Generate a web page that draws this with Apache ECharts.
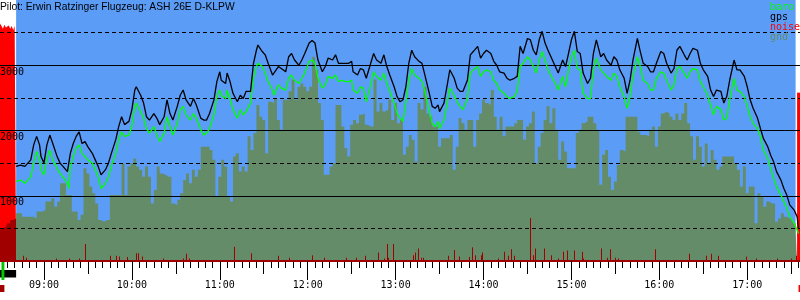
<!DOCTYPE html>
<html>
<head>
<meta charset="utf-8">
<title>Barogramm D-KLPW</title>
<script src="https://cdn.jsdelivr.net/npm/echarts@6/dist/echarts.min.js"></script>
<style>
  html, body { margin: 0; padding: 0; background: #fff; }
  #main { width: 800px; height: 300px; }
</style>
</head>
<body>
<div id="main"></div>
<script type="text/javascript">
    // Flug: Zeit, GPS-Hoehe und Baro-Hoehe (m)
    var trackTime = ['08:41','08:44','08:47','08:48','08:51','08:53','08:55','08:57','08:58','09:00',
        '09:02','09:04','09:06','09:09','09:11','09:13','09:16','09:17','09:18','09:20',
        '09:22','09:24','09:26','09:28','09:30','09:33','09:35','09:37','09:39','09:42',
        '09:44','09:46','09:49','09:51','09:53','09:55','09:58','10:00','10:02','10:03',
        '10:06','10:08','10:10','10:12','10:15','10:17','10:19','10:22','10:24','10:26',
        '10:28','10:31','10:33','10:35','10:37','10:40','10:42','10:44','10:47','10:49',
        '10:51','10:53','10:56','10:58','11:00','11:01','11:04','11:05','11:07','11:09',
        '11:12','11:14','11:16','11:18','11:21','11:23','11:25','11:26','11:29','11:31',
        '11:33','11:36','11:37','11:40','11:42','11:45','11:47','11:49','11:51','11:54',
        '11:56','11:58','12:01','12:03','12:05','12:07','12:10','12:12','12:14','12:17',
        '12:19','12:21','12:23','12:26','12:28','12:30','12:31','12:34','12:36','12:38',
        '12:40','12:43','12:45','12:47','12:50','12:52','12:54','12:56','12:59','13:01',
        '13:03','13:05','13:07','13:09','13:11','13:13','13:16','13:18','13:20','13:23',
        '13:25','13:27','13:29','13:30','13:33','13:35','13:37','13:40','13:42','13:44',
        '13:46','13:49','13:51','13:53','13:56','13:58','14:00','14:02','14:05','14:07',
        '14:09','14:11','14:14','14:16','14:18','14:21','14:23','14:25','14:27','14:30',
        '14:32','14:34','14:36','14:38','14:40','14:42','14:44','14:47','14:49','14:51',
        '14:54','14:56','14:58','15:00','15:02','15:04','15:06','15:08','15:11','15:13',
        '15:15','15:17','15:20','15:22','15:24','15:27','15:29','15:31','15:33','15:36',
        '15:38','15:40','15:42','15:45','15:47','15:49','15:52','15:54','15:56','15:58',
        '16:01','16:03','16:05','16:08','16:10','16:12','16:14','16:17','16:19','16:21',
        '16:23','16:26','16:28','16:30','16:33','16:35','16:37','16:39','16:42','16:44',
        '16:46','16:48','16:51','16:53','16:55','16:58','17:00','17:02','17:04','17:07',
        '17:09','17:11','17:14','17:16','17:18','17:20','17:23','17:25','17:27','17:29',
        '17:32','17:34','17:35'];
    var gpsAlt = [1450,1470,1450,1420,1550,1780,1910,1780,1600,1500,
        1780,1930,1800,1600,1500,1450,1370,1340,1650,1800,
        1910,1980,1800,1830,1750,1650,1550,1450,1320,1400,
        1500,1650,1860,2060,2210,2090,2140,2320,2620,2670,
        2540,2420,2210,2160,2260,2190,2090,2210,2470,2260,
        2160,2370,2540,2620,2470,2370,2490,2390,2190,2160,
        2160,2260,2470,2750,2900,2770,2720,2880,2750,2570,
        2440,2540,2490,2600,2600,3030,3230,3310,3210,3160,
        3030,2850,2830,2980,2950,2900,3130,3180,3080,3000,
        3080,3180,3340,3380,3340,3080,2900,2980,3110,3080,
        3160,3030,3030,3030,3030,3060,2900,2850,2950,2930,
        2800,3030,3180,3080,3030,3160,2980,2850,2670,2520,
        2440,2470,2670,3030,3230,3130,3060,3030,2850,2570,
        2370,2340,2390,2290,2420,2670,2930,2800,2650,2600,
        2600,2770,3160,3210,3290,3110,3180,3230,3180,3060,
        3000,2900,2880,2800,2770,2800,2830,3290,3180,3410,
        3390,3230,3160,3390,3520,3340,3230,3080,2980,2880,
        3080,2980,3180,3390,3520,3210,3180,2880,2720,2800,
        3180,3390,3130,3180,3080,3000,3130,3080,2930,2800,
        2570,2770,3080,3410,3210,3030,2980,2900,2900,3030,
        3210,3180,3030,2880,2950,3230,3290,3160,3080,3180,
        3260,3230,3030,2930,2830,2620,2520,2620,2600,2420,
        2520,2770,3080,2930,2930,2830,2670,2470,2340,2190,
        2030,1880,1750,1620,1520,1370,1240,1110,1010,860,
        780,680,500];
    var baroAlt = [1220,1240,1190,1170,1290,1500,1680,1550,1400,1320,
        1570,1700,1550,1420,1340,1290,1190,1110,1450,1600,
        1730,1780,1650,1600,1550,1500,1400,1290,1110,1190,
        1290,1450,1650,1860,1980,1910,1930,2060,2370,2420,
        2290,2190,2030,1960,2060,1930,1830,1960,2210,2060,
        1930,2110,2320,2370,2240,2160,2260,2190,2010,1930,
        1960,2030,2240,2520,2620,2540,2490,2620,2490,2320,
        2190,2320,2240,2290,2420,2800,2980,3030,2980,2880,
        2750,2620,2540,2700,2650,2620,2800,2850,2770,2720,
        2800,2880,3060,3080,3030,2800,2650,2700,2830,2800,
        2850,2750,2770,2750,2750,2770,2620,2570,2670,2650,
        2440,2700,2900,2830,2770,2880,2720,2600,2420,2260,
        2190,2140,2420,2770,2950,2850,2800,2750,2600,2290,
        2110,2060,2140,2030,2160,2390,2650,2540,2440,2370,
        2320,2490,2880,2930,2980,2830,2900,2930,2900,2770,
        2720,2620,2570,2520,2490,2520,2600,2980,3030,3130,
        3080,2980,2880,3080,3210,3080,2930,2800,2720,2620,
        2830,2670,2930,3130,3230,2950,2930,2570,2490,2490,
        2930,3110,2930,2880,2830,2770,2880,2830,2670,2520,
        2340,2520,2830,3130,2980,2770,2720,2620,2620,2800,
        2900,2880,2770,2620,2700,2950,2980,2880,2800,2900,
        2950,2930,2750,2670,2540,2390,2240,2370,2320,2160,
        2190,2470,2800,2620,2600,2520,2370,2210,2110,2030,
        1910,1700,1570,1420,1270,1140,1010,910,810,680,
        580,480,420];

    // Gelaende unter dem Flugweg, alle 2 Minuten ab 08:30 (m)
    var gndStart = '08:30';
    var gndStep = 2;
    var gndAlt = [480,500,530,580,630,650,730,730,680,680,
        680,680,650,760,760,780,910,910,960,830,
        910,1190,1190,1010,1010,760,760,630,710,1420,
        1340,1140,1040,880,630,600,630,630,1010,1010,
        1010,1010,1500,1010,1450,1500,1570,1450,1400,1290,
        1450,1290,880,1090,1450,1340,1320,1290,1290,880,
        860,940,1040,1240,1340,1190,1400,1290,1400,1750,
        1750,1750,1700,1550,990,1290,1550,1450,990,910,
        1600,1650,1370,1450,1370,1910,1700,1960,2390,2210,
        2160,1650,2440,2420,2490,2160,2010,2470,2470,2600,
        2780,2470,2670,2720,2670,2600,2670,3130,2930,2420,
        2160,1320,1320,1450,1500,2390,2390,2060,1730,1600,
        2090,2160,2110,2240,2260,2090,2060,2060,2780,2290,
        2420,2290,2320,2470,2160,2420,2110,2160,1630,1750,
        1930,1860,1520,2420,2320,2670,2260,2210,2060,2060,
        1750,1880,1880,1880,1930,1400,1750,2190,2110,2010,
        2160,2160,1750,2160,2260,2470,2420,2390,2620,2210,
        2010,2210,1910,2060,2060,2060,2110,2160,2160,1860,
        2060,2110,2290,1500,1750,1960,2160,2370,2110,2340,
        2010,1550,1830,1680,1420,1420,1420,1960,2010,2110,
        2140,2210,2210,2110,2010,1170,1630,1700,1290,1090,
        1220,1470,1700,1680,2210,2210,2210,2210,1980,1930,
        1930,1910,2010,2060,1750,2060,2260,2290,2260,2210,
        2160,2260,2160,2260,2420,2110,1910,1550,1910,1750,
        1450,1800,1500,1700,1550,1400,1450,1600,1600,1600,
        1600,1500,1400,1140,1450,1040,1140,1140,580,1040,
        990,830,910,880,880,600,650,730,680,650,
        630,580,420];

    // Motorlaerm (Start mit Motor, Motor am Ende)
    var motorTime = ['08:30','08:31','08:32','08:33','08:34','08:35','08:36','08:37','08:38','08:39','08:40','08:41',
        '17:34','17:36'];
    var motorNoise = [3640,3600,3560,3620,3580,3610,3640,3560,3600,3540,3600,3580,
        2580,2580];

    // sonstige Geraeusche
    var noiseTime = ['08:46','08:48','09:08','09:17','09:24','09:28','09:45','09:49','09:51','09:57',
        '10:03','10:04','10:07','10:21','10:35','10:37','10:39','11:10','11:21','11:40',
        '11:47','12:03','12:11','12:26','12:33','12:39','12:48','12:52','12:54','12:55',
        '12:58','13:12','13:13','13:15','13:17','13:19','13:36','13:40','13:43','13:50',
        '13:52','13:54','13:58','13:59','14:10','14:14','14:17','14:19','14:21','14:32',
        '14:34','14:35','14:41','14:46','14:51','14:54','14:57','15:02','15:07','15:08',
        '15:20','15:24','15:26','15:30','15:32','15:57','16:20','16:32','16:35','16:40',
        '16:59','17:06','17:20','17:30','17:33'];
    var noiseLevel = [80,50,40,40,40,260,80,80,70,60,
        120,120,70,40,40,110,40,220,120,80,
        50,90,50,50,50,80,130,40,260,50,
        260,90,130,190,50,50,80,170,70,60,
        210,90,90,130,40,140,80,180,80,660,
        90,190,190,90,40,140,160,160,140,40,
        190,50,180,50,40,180,110,80,110,80,
        70,40,40,40,80];

    // Ereignisleiste unter der Zeitachse
    var eventFrom = ['08:30', '08:31', '08:30', '17:35'];
    var eventTo = ['08:41', '08:33', '08:33', '17:36'];
    var eventKind = ['motor', 'start', 'log', 'logEnd'];

    var hourLabels = ['09:00','10:00','11:00','12:00','13:00','14:00','15:00','16:00','17:00'];
    var skyFrom = '08:41', skyTo = '17:33';

    function toMin(s) { var p = s.split(':'); return +p[0] * 60 + +p[1]; }
    function fmt(m) {
        var h = Math.floor(m / 60), mm = Math.round(m % 60);
        return (h < 10 ? '0' : '') + h + ':' + (mm < 10 ? '0' : '') + mm;
    }

    var xMin = toMin('08:30'), xMax = toMin('17:36');
    var hourTicks = hourLabels.map(toMin);
    var halfTicks = hourTicks.map(function (m) { return m + 30; });
    var fiveTicks = [];
    for (var m = xMin + 5; m < xMax; m += 5) fiveTicks.push(m);

    var gpsData = trackTime.map(function (t, i) { return [toMin(t), gpsAlt[i]]; });
    var baroData = trackTime.map(function (t, i) { return [toMin(t), baroAlt[i]]; });
    var gndData = gndAlt.map(function (v, i) { return [toMin(gndStart) + i * gndStep, v]; });
    var noiseData = noiseTime.map(function (t, i) { return [toMin(t), noiseLevel[i]]; });
    var eventData = eventFrom.map(function (t, i) { return [toMin(t), toMin(eventTo[i]), i]; });

    // Motorlaeufe getrennt (Luecke > 5 min)
    var motorRuns = [[]];
    motorTime.forEach(function (t, i) {
        var cur = motorRuns[motorRuns.length - 1];
        if (cur.length && toMin(t) - cur[cur.length - 1][0] > 5) { cur = []; motorRuns.push(cur); }
        cur.push([toMin(t), motorNoise[i]]);
    });

    var mono = 'DejaVu Sans Mono';
    var skyBlue = '#5b9cf6';
    var gndGreen = '#648c68';
    var darkRed = '#a00000';
    // Bahnen der Ereignisleiste (Pixel unter der Achse) und Farben
    var laneStyle = {
        motor: { from: 9, to: 16.5, color: '#000000' },
        start: { from: 1, to: 19, color: '#00c800' },
        log: { from: 24, to: 31, color: darkRed },
        logEnd: { from: 24, to: 31, color: '#ff0000' }
    };

    var series = [];
    motorRuns.forEach(function (run, k) {
        var s = {
            name: 'noise', type: 'line', data: run, step: 'end', symbol: 'none',
            lineStyle: { width: 0, opacity: 0 },
            areaStyle: { color: '#ff0000', opacity: 1 },
            z: 2, silent: true
        };
        if (k === 0) {
            s.markArea = {
                silent: true,
                itemStyle: { color: skyBlue, opacity: 1 },
                data: [[{ xAxis: toMin(skyFrom) }, { xAxis: toMin(skyTo) }]]
            };
        }
        series.push(s);
    });
    var gndIndex = series.length;
    series.push({
        name: 'gnd', type: 'line', data: gndData, step: 'middle', symbol: 'none',
        lineStyle: { width: 0, opacity: 0 },
        areaStyle: { opacity: 1 },
        z: 3, silent: true
    });
    // Geraeuschspitzen als 1px-Striche
    series.push({
        name: 'noise', type: 'custom', data: noiseData, z: 4, silent: true,
        encode: { x: 0, y: 1 },
        renderItem: function (params, api) {
            var top = api.coord([api.value(0), api.value(1)]);
            var base = api.coord([api.value(0), 0]);
            return {
                type: 'rect',
                shape: { x: Math.round(top[0]), y: top[1], width: 1, height: base[1] - top[1] },
                style: { fill: darkRed }
            };
        }
    });
    series.push({
        name: 'baro', type: 'line', data: baroData, symbol: 'none',
        lineStyle: { color: '#00ff00', width: 1.3 }, itemStyle: { color: '#00ff00' }, z: 6, silent: true
    });
    series.push({
        name: 'gps', type: 'line', data: gpsData, symbol: 'none',
        lineStyle: { color: '#000000', width: 1.3 }, itemStyle: { color: '#000000' }, z: 7, silent: true
    });
    // Ereignisleiste
    series.push({
        name: 'events', type: 'custom', data: eventData, xAxisIndex: 3, yAxisIndex: 2, z: 8, silent: true,
        encode: { x: [0, 1] },
        renderItem: function (params, api) {
            var lane = laneStyle[eventKind[api.value(2)]];
            var p0 = api.coord([api.value(0), lane.from]);
            var p1 = api.coord([api.value(1), lane.to]);
            return {
                type: 'rect',
                shape: { x: p0[0], y: p0[1], width: p1[0] - p0[0], height: p1[1] - p0[1] },
                style: { fill: lane.color },
                z2: eventKind[api.value(2)] === 'start' ? 2 : 1
            };
        }
    });

    var myChart = echarts.init(document.getElementById('main'));
    var option = {
        animation: false,
        backgroundColor: '#ffffff',
        title: {
            text: 'Pilot: Erwin Ratzinger Flugzeug: ASH 26E D-KLPW',
            left: 0, top: 0, padding: [2, 0, 0, 0],
            textStyle: { fontFamily: 'Liberation Sans', fontSize: 10.3, fontWeight: 'normal', color: '#000' }
        },
        legend: {
            orient: 'vertical', left: 764, top: 2, padding: 0,
            itemWidth: 0, itemHeight: 0, itemGap: 0, selectedMode: false,
            textStyle: { fontFamily: mono, fontSize: 10, lineHeight: 10 },
            data: [
                { name: 'baro', textStyle: { color: '#00ff00' } },
                { name: 'gps', textStyle: { color: '#000000' } },
                { name: 'noise', textStyle: { color: '#ff0000' } },
                { name: 'gnd', textStyle: { color: gndGreen } }
            ]
        },
        // Gelaende waehrend des Motorlaufs dunkelrot
        visualMap: {
            show: false, type: 'piecewise', seriesIndex: gndIndex, dimension: 0,
            pieces: [
                { gte: xMin - 10, lt: toMin(skyFrom), color: darkRed },
                { gte: toMin(skyFrom), lte: xMax + 10, color: gndGreen }
            ],
            outOfRange: { color: gndGreen }
        },
        grid: [
            { left: 0, right: 0, top: 0, bottom: 39, containLabel: false, outerBoundsMode: 'none' },
            { left: 0, right: 0, top: 261, bottom: 8, containLabel: false, outerBoundsMode: 'none' }
        ],
        xAxis: [
            {
                type: 'value', min: xMin, max: xMax, position: 'bottom', z: 5,
                axisLine: { show: true, onZero: false, lineStyle: { color: darkRed, width: 2 } },
                axisTick: { show: true, customValues: hourTicks, length: 19, lineStyle: { color: '#000' } },
                axisLabel: {
                    customValues: hourTicks, formatter: fmt, margin: 19,
                    fontFamily: mono, fontSize: 10, color: '#000'
                },
                splitLine: { show: false }
            },
            {
                type: 'value', min: xMin, max: xMax, position: 'bottom',
                axisLine: { show: false },
                axisTick: { show: true, customValues: halfTicks, length: 13, lineStyle: { color: '#000' } },
                axisLabel: { show: false },
                splitLine: { show: false }
            },
            {
                type: 'value', min: xMin, max: xMax, position: 'bottom',
                axisLine: { show: false },
                axisTick: { show: true, customValues: fiveTicks, length: 7, lineStyle: { color: '#000' } },
                axisLabel: { show: false },
                splitLine: { show: false }
            },
            { type: 'value', gridIndex: 1, min: xMin, max: xMax, show: false }
        ],
        yAxis: [
            {
                type: 'value', min: 0, max: 4000, interval: 1000, position: 'left', z: 5,
                axisLine: { show: false }, axisTick: { show: false },
                axisLabel: {
                    inside: true, margin: 0, verticalAlign: 'top', padding: [2, 0, 0, 0],
                    showMinLabel: false, showMaxLabel: false,
                    formatter: function (v) { return String(v); },
                    fontFamily: mono, fontSize: 10, color: '#000'
                },
                splitLine: { show: true, showMinLine: false, showMaxLine: false, lineStyle: { color: '#000', width: 1 } }
            },
            {
                type: 'value', min: 0, max: 4000, interval: 500, position: 'left', z: 4,
                axisLine: { show: false }, axisTick: { show: false }, axisLabel: { show: false },
                splitLine: { show: true, showMinLine: false, showMaxLine: false, lineStyle: { color: '#000', width: 1, type: [4, 3] } }
            },
            { type: 'value', gridIndex: 1, min: 0, max: 31, inverse: true, show: false }
        ],
        series: series
    };
    myChart.setOption(option);
</script>
</body>
</html>
